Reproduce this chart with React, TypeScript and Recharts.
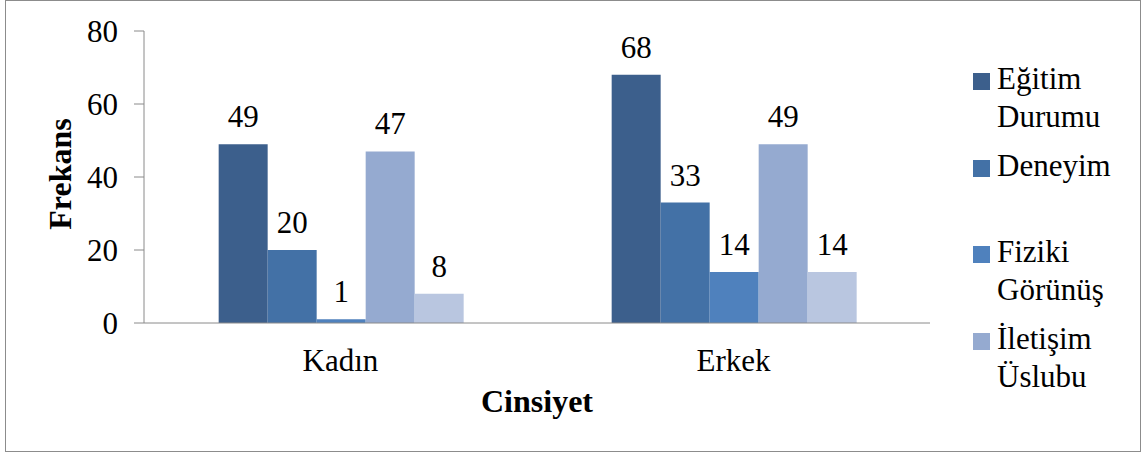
import { BarChart, Bar, XAxis, YAxis, LabelList } from "recharts";

const categories: string[] = ["Kadın", "Erkek"];
const egitimDurumu: number[] = [49, 68];
const deneyim: number[] = [20, 33];
const fizikiGorunus: number[] = [1, 14];
const iletisimUslubu: number[] = [47, 49];
const besinciSeri: number[] = [8, 14];
const yTicks: number[] = [0, 20, 40, 60, 80];

const seriesKeys: string[] = ["egitim", "deneyim", "fiziki", "iletisim", "besinci"];
const seriesColors: string[] = ["#3C5F8C", "#4371A6", "#4F81BD", "#95AAD0", "#B9C6E0"];
// only the first four series fit in the legend box
const legendNames: string[] = ["Eğitim Durumu", "Deneyim", "Fiziki Görünüş", "İletişim Üslubu"];

const data = categories.map((name, i) => ({
  name,
  egitim: egitimDurumu[i],
  deneyim: deneyim[i],
  fiziki: fizikiGorunus[i],
  iletisim: iletisimUslubu[i],
  besinci: besinciSeri[i],
}));

const FONT = "'Liberation Serif', 'Times New Roman', serif";
const AXIS = "#8a8a8a";

const ChartLegend = () => (
  <div style={{ position: "absolute", left: 973, top: 0, fontFamily: FONT, fontSize: 31, lineHeight: "38px", color: "#000" }}>
    {legendNames.map((name, i) => (
      <div key={name} style={{ position: "absolute", left: 0, top: 60 + i * 86.5, width: 170 }}>
        <div style={{ position: "absolute", left: 0, top: 13, width: 17, height: 17, background: seriesColors[i] }} />
        <div style={{ marginLeft: 24, width: 142 }}>{name}</div>
      </div>
    ))}
  </div>
);

const App = () => (
  <div style={{ position: "absolute", left: 0, top: 0, width: 1146, height: 456, background: "#fff" }}>
    <div style={{ position: "absolute", left: 5, top: 0, width: 1134, height: 450, border: "1.5px solid #8c8c8c" }} />
    <BarChart
      width={1146}
      height={456}
      data={data}
      margin={{ top: 31, right: 216, bottom: 0, left: 0 }}
      barCategoryGap="19%"
      barGap={0}
    >
      <XAxis
        dataKey="name"
        height={133}
        stroke={AXIS}
        tickLine={false}
        tickSize={0}
        tickMargin={26}
        tick={{ fill: "#000", fontSize: 31, fontFamily: FONT }}
        label={{
          value: "Cinsiyet",
          position: "insideBottom",
          offset: 44,
          fill: "#000",
          fontSize: 32,
          fontWeight: "bold",
          fontFamily: FONT,
        }}
      />
      <YAxis
        width={144}
        domain={[0, 80]}
        ticks={yTicks}
        stroke={AXIS}
        tickSize={10}
        tickMargin={16}
        tick={{ fill: "#000", fontSize: 31, fontFamily: FONT }}
        label={{
          content: () => (
            <text
              x={71}
              y={174}
              transform="rotate(-90 71 174)"
              textAnchor="middle"
              fontSize={32}
              fontWeight="bold"
              fontFamily={FONT}
              fill="#000"
            >
              Frekans
            </text>
          ),
        }}
      />
      {seriesKeys.map((key, i) => (
        <Bar key={key} dataKey={key} fill={seriesColors[i]} isAnimationActive={false}>
          <LabelList dataKey={key} position="top" offset={17} fill="#000" fontSize={31} fontFamily={FONT} />
        </Bar>
      ))}
    </BarChart>
    <ChartLegend />
  </div>
);

export default App;
